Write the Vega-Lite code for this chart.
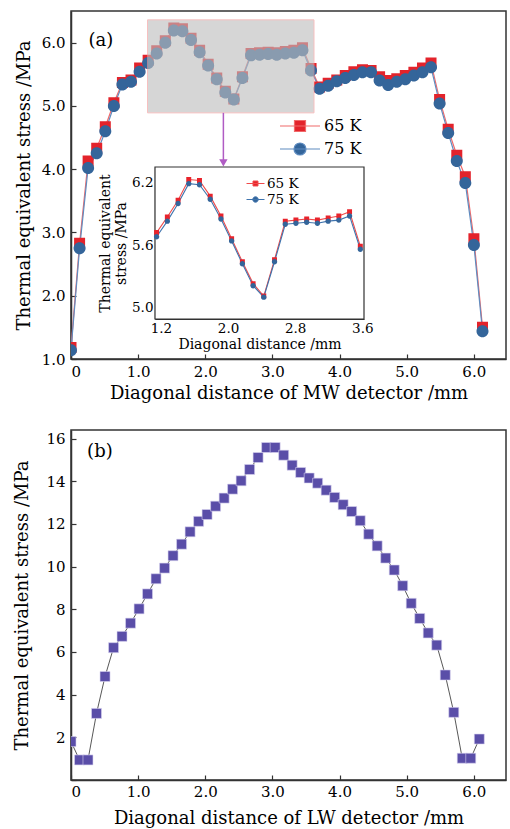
{
  "$schema": "https://vega.github.io/schema/vega-lite/v6.json",
  "padding": {"left": 13, "top": 10, "right": 1, "bottom": 0},
  "background": "white",
  "config": {
    "font": "DejaVu Serif",
    "view": {"stroke": "#333", "strokeWidth": 1.5},
    "axis": {"labelFont": "DejaVu Serif", "labelFontSize": 15, "labelColor": "#000", "titleFont": "DejaVu Serif", "titleFontSize": 18, "titleFontWeight": "normal", "titleColor": "#000", "domainColor": "#333", "domainWidth": 1.5, "tickColor": "#333", "tickWidth": 1.2, "grid": false, "tickSize": -5, "labelPadding": 9},
    "legend": {"labelFont": "DejaVu Serif", "labelColor": "#000"}
  },
  "datasets": {
    "mw": [
      {"x": 0, "series": "65 K", "y": 1.18}, {"x": 0.128, "series": "65 K", "y": 2.83}, {"x": 0.255, "series": "65 K", "y": 4.13}, {"x": 0.383, "series": "65 K", "y": 4.33}, {"x": 0.511, "series": "65 K", "y": 4.67}, {"x": 0.639, "series": "65 K", "y": 5.05}, {"x": 0.766, "series": "65 K", "y": 5.37}, {"x": 0.894, "series": "65 K", "y": 5.41}, {"x": 1.022, "series": "65 K", "y": 5.6}, {"x": 1.149, "series": "65 K", "y": 5.72},
      {"x": 1.277, "series": "65 K", "y": 5.87}, {"x": 1.405, "series": "65 K", "y": 6.03}, {"x": 1.532, "series": "65 K", "y": 6.23}, {"x": 1.66, "series": "65 K", "y": 6.22}, {"x": 1.788, "series": "65 K", "y": 6.07}, {"x": 1.916, "series": "65 K", "y": 5.88}, {"x": 2.043, "series": "65 K", "y": 5.66}, {"x": 2.171, "series": "65 K", "y": 5.44}, {"x": 2.299, "series": "65 K", "y": 5.23}, {"x": 2.426, "series": "65 K", "y": 5.11},
      {"x": 2.554, "series": "65 K", "y": 5.46}, {"x": 2.682, "series": "65 K", "y": 5.83}, {"x": 2.809, "series": "65 K", "y": 5.84}, {"x": 2.937, "series": "65 K", "y": 5.85}, {"x": 3.065, "series": "65 K", "y": 5.84}, {"x": 3.193, "series": "65 K", "y": 5.86}, {"x": 3.32, "series": "65 K", "y": 5.88}, {"x": 3.448, "series": "65 K", "y": 5.92}, {"x": 3.576, "series": "65 K", "y": 5.59}, {"x": 3.703, "series": "65 K", "y": 5.3},
      {"x": 3.831, "series": "65 K", "y": 5.36}, {"x": 3.959, "series": "65 K", "y": 5.41}, {"x": 4.086, "series": "65 K", "y": 5.48}, {"x": 4.214, "series": "65 K", "y": 5.54}, {"x": 4.342, "series": "65 K", "y": 5.57}, {"x": 4.47, "series": "65 K", "y": 5.56}, {"x": 4.597, "series": "65 K", "y": 5.46}, {"x": 4.725, "series": "65 K", "y": 5.4}, {"x": 4.853, "series": "65 K", "y": 5.43}, {"x": 4.98, "series": "65 K", "y": 5.48},
      {"x": 5.108, "series": "65 K", "y": 5.53}, {"x": 5.236, "series": "65 K", "y": 5.6}, {"x": 5.363, "series": "65 K", "y": 5.68}, {"x": 5.491, "series": "65 K", "y": 5.1}, {"x": 5.619, "series": "65 K", "y": 4.63}, {"x": 5.747, "series": "65 K", "y": 4.22}, {"x": 5.874, "series": "65 K", "y": 3.88}, {"x": 6.002, "series": "65 K", "y": 2.9}, {"x": 6.13, "series": "65 K", "y": 1.5},
      {"x": 0, "series": "75 K", "y": 1.14}, {"x": 0.128, "series": "75 K", "y": 2.75}, {"x": 0.255, "series": "75 K", "y": 4.02}, {"x": 0.383, "series": "75 K", "y": 4.25}, {"x": 0.511, "series": "75 K", "y": 4.6}, {"x": 0.639, "series": "75 K", "y": 5.0}, {"x": 0.766, "series": "75 K", "y": 5.34}, {"x": 0.894, "series": "75 K", "y": 5.38}, {"x": 1.022, "series": "75 K", "y": 5.54}, {"x": 1.149, "series": "75 K", "y": 5.68},
      {"x": 1.277, "series": "75 K", "y": 5.83}, {"x": 1.405, "series": "75 K", "y": 6.0}, {"x": 1.532, "series": "75 K", "y": 6.19}, {"x": 1.66, "series": "75 K", "y": 6.18}, {"x": 1.788, "series": "75 K", "y": 6.04}, {"x": 1.916, "series": "75 K", "y": 5.85}, {"x": 2.043, "series": "75 K", "y": 5.64}, {"x": 2.171, "series": "75 K", "y": 5.42}, {"x": 2.299, "series": "75 K", "y": 5.21}, {"x": 2.426, "series": "75 K", "y": 5.1},
      {"x": 2.554, "series": "75 K", "y": 5.44}, {"x": 2.682, "series": "75 K", "y": 5.8}, {"x": 2.809, "series": "75 K", "y": 5.81}, {"x": 2.937, "series": "75 K", "y": 5.82}, {"x": 3.065, "series": "75 K", "y": 5.81}, {"x": 3.193, "series": "75 K", "y": 5.83}, {"x": 3.32, "series": "75 K", "y": 5.84}, {"x": 3.448, "series": "75 K", "y": 5.88}, {"x": 3.576, "series": "75 K", "y": 5.56}, {"x": 3.703, "series": "75 K", "y": 5.27},
      {"x": 3.831, "series": "75 K", "y": 5.32}, {"x": 3.959, "series": "75 K", "y": 5.39}, {"x": 4.086, "series": "75 K", "y": 5.44}, {"x": 4.214, "series": "75 K", "y": 5.49}, {"x": 4.342, "series": "75 K", "y": 5.53}, {"x": 4.47, "series": "75 K", "y": 5.53}, {"x": 4.597, "series": "75 K", "y": 5.4}, {"x": 4.725, "series": "75 K", "y": 5.33}, {"x": 4.853, "series": "75 K", "y": 5.38}, {"x": 4.98, "series": "75 K", "y": 5.42},
      {"x": 5.108, "series": "75 K", "y": 5.48}, {"x": 5.236, "series": "75 K", "y": 5.53}, {"x": 5.363, "series": "75 K", "y": 5.61}, {"x": 5.491, "series": "75 K", "y": 5.04}, {"x": 5.619, "series": "75 K", "y": 4.57}, {"x": 5.747, "series": "75 K", "y": 4.13}, {"x": 5.874, "series": "75 K", "y": 3.78}, {"x": 6.002, "series": "75 K", "y": 2.8}, {"x": 6.13, "series": "75 K", "y": 1.44}
    ],
    "lw": [
      {"x": 0, "y": 1.8}, {"x": 0.127, "y": 0.94}, {"x": 0.253, "y": 0.94}, {"x": 0.38, "y": 3.12}, {"x": 0.507, "y": 4.85}, {"x": 0.634, "y": 6.2}, {"x": 0.76, "y": 6.73}, {"x": 0.887, "y": 7.35}, {"x": 1.014, "y": 8.02}, {"x": 1.14, "y": 8.72},
      {"x": 1.267, "y": 9.43}, {"x": 1.394, "y": 9.93}, {"x": 1.52, "y": 10.51}, {"x": 1.647, "y": 11.05}, {"x": 1.774, "y": 11.63}, {"x": 1.901, "y": 12.12}, {"x": 2.027, "y": 12.44}, {"x": 2.154, "y": 12.83}, {"x": 2.281, "y": 13.21}, {"x": 2.407, "y": 13.63},
      {"x": 2.534, "y": 14.02}, {"x": 2.661, "y": 14.55}, {"x": 2.787, "y": 15.11}, {"x": 2.914, "y": 15.58}, {"x": 3.041, "y": 15.58}, {"x": 3.168, "y": 15.22}, {"x": 3.294, "y": 14.75}, {"x": 3.421, "y": 14.41}, {"x": 3.548, "y": 14.15}, {"x": 3.674, "y": 13.91},
      {"x": 3.801, "y": 13.58}, {"x": 3.928, "y": 13.24}, {"x": 4.054, "y": 12.9}, {"x": 4.181, "y": 12.58}, {"x": 4.308, "y": 12.15}, {"x": 4.435, "y": 11.52}, {"x": 4.561, "y": 10.97}, {"x": 4.688, "y": 10.4}, {"x": 4.815, "y": 9.84}, {"x": 4.941, "y": 9.1},
      {"x": 5.068, "y": 8.28}, {"x": 5.195, "y": 7.57}, {"x": 5.321, "y": 6.89}, {"x": 5.448, "y": 6.32}, {"x": 5.575, "y": 4.92}, {"x": 5.702, "y": 3.17}, {"x": 5.828, "y": 1.02}, {"x": 5.955, "y": 1.02}, {"x": 6.082, "y": 1.92}
    ]
  },
  "spacing": 26,
  "vconcat": [
    {
      "width": 435,
      "height": 348,
      "layer": [
        {
          "layer": [
            {
              "data": {"name": "mw"},
              "mark": {"type": "line", "strokeWidth": 1.2, "clip": true},
              "encoding": {
                "x": {"field": "x", "type": "quantitative", "scale": {"domain": [0, 6.48], "nice": false, "zero": false},
                      "axis": {"orient": "bottom", "values": [0, 1, 2, 3, 4, 5, 6], "labelExpr": "datum.value === 0 ? '0' : format(datum.value, '.1f')", "title": "Diagonal distance of MW detector /mm", "labelPadding": 10, "titlePadding": 5}},
                "y": {"field": "y", "type": "quantitative", "scale": {"domain": [1, 6.5], "nice": false, "zero": false},
                      "axis": {"orient": "left", "values": [1, 1.5, 2, 2.5, 3, 3.5, 4, 4.5, 5, 5.5, 6], "labelExpr": "datum.value % 1 === 0 ? format(datum.value, '.1f') : ''", "title": "Thermal equivalent stress /MPa", "labelPadding": 11, "titlePadding": 8}},
                "stroke": {"field": "series", "type": "nominal", "scale": {"domain": ["65 K", "75 K"], "range": ["#f06a6a", "#5f8cc0"]},
                           "legend": {"orient": "none", "legendX": 208, "legendY": 103.5, "title": null, "labelFontSize": 16, "symbolSize": 1600, "symbolStrokeWidth": 1.2, "labelOffset": 3, "rowPadding": 0, "clipHeight": 23, "padding": 0}}
              }
            },
            {
              "data": {"name": "mw"},
              "mark": {"type": "point", "filled": true, "opacity": 1, "size": 1600, "clip": true},
              "encoding": {
                "x": {"field": "x", "type": "quantitative"},
                "y": {"field": "y", "type": "quantitative"},
                "fill": {"field": "series", "type": "nominal", "scale": {"domain": ["65 K", "75 K"], "range": ["#e3232b", "#34659a"]},
                         "legend": {"orient": "none", "legendX": 208, "legendY": 103.5, "title": null, "labelFontSize": 16, "symbolSize": 1600, "symbolStrokeWidth": 1.2, "labelOffset": 3, "rowPadding": 0, "clipHeight": 23, "padding": 0}},
                "shape": {"field": "series", "type": "nominal", "scale": {"domain": ["65 K", "75 K"], "range": ["M-1,0H1M-0.275,-0.275H0.275V0.275H-0.275Z", "M-1,0H1M0.3,0A0.3,0.3,0,1,1,-0.3,0A0.3,0.3,0,1,1,0.3,0Z"]},
                          "legend": {"orient": "none", "legendX": 208, "legendY": 103.5, "title": null, "labelFontSize": 16, "symbolSize": 1600, "symbolStrokeWidth": 1.2, "labelOffset": 3, "rowPadding": 0, "clipHeight": 23, "padding": 0}}
              }
            },
            {
              "data": {"values": [{}]},
              "mark": {"type": "rect", "fill": "#bdbdbd", "opacity": 0.62, "stroke": "#f39a9a", "strokeWidth": 1},
              "encoding": {"x": {"datum": 1.14}, "x2": {"datum": 3.62}, "y": {"datum": 4.89}, "y2": {"datum": 6.36}}
            },
            {
              "data": {"values": [{}]},
              "mark": {"type": "rule", "color": "#b05cc4", "strokeWidth": 1.5},
              "encoding": {"x": {"datum": 2.27}, "y": {"datum": 4.89}, "y2": {"datum": 4.12}}
            },
            {
              "data": {"values": [{}]},
              "mark": {"type": "point", "shape": "triangle-down", "filled": true, "color": "#b05cc4", "opacity": 1, "size": 70},
              "encoding": {"x": {"datum": 2.27}, "y": {"datum": 4.1}}
            },
            {
              "data": {"values": [{}]},
              "mark": {"type": "text", "text": "(a)", "align": "left", "baseline": "middle", "fontSize": 18, "font": "DejaVu Serif", "color": "#000"},
              "encoding": {"x": {"datum": 0.26}, "y": {"datum": 6.03}}
            }
          ]
        },
        {
          "layer": [
            {
              "data": {"values": [{}]},
              "mark": {"type": "rect", "fill": "white", "stroke": "#333", "strokeWidth": 1.2},
              "encoding": {
                "x": {"datum": 1.13, "scale": {"domain": [1.13, 3.62], "range": [84, 293], "nice": false, "zero": false},
                      "axis": {"orient": "bottom", "offset": -40, "values": [1.2, 2.0, 2.8, 3.6], "format": ".1f", "labelFontSize": 13.5, "titleFontSize": 14, "tickSize": -4, "labelPadding": 6, "title": "Diagonal distance /mm", "titlePadding": 3, "domainWidth": 1.2}},
                "x2": {"datum": 3.62},
                "y": {"datum": 4.89, "scale": {"domain": [4.89, 6.35], "range": [308, 156], "nice": false, "zero": false},
                      "axis": {"orient": "left", "offset": -84, "values": [5.0, 5.6, 6.2], "format": ".1f", "labelFontSize": 13.5, "titleFontSize": 14, "tickSize": -4, "labelPadding": 6, "title": ["Thermal equivalent", "stress /MPa"], "titlePadding": 3, "titleLineHeight": 16, "domainWidth": 1.2}},
                "y2": {"datum": 6.35}
              }
            },
            {
              "data": {"name": "mw"},
              "transform": [{"filter": "datum.x > 1.1 && datum.x < 3.6"}],
              "mark": {"type": "line", "strokeWidth": 1.1},
              "encoding": {
                "x": {"field": "x", "type": "quantitative"},
                "y": {"field": "y", "type": "quantitative"},
                "stroke": {"field": "series", "type": "nominal", "scale": {"domain": ["65 K", "75 K"], "range": ["#f04a4a", "#3f74ae"]},
                           "legend": {"orient": "none", "legendX": 175, "legendY": 163, "title": null, "labelFontSize": 13.5, "symbolSize": 324, "symbolStrokeWidth": 1, "labelOffset": 2, "rowPadding": 0, "padding": 0}}
              }
            },
            {
              "data": {"name": "mw"},
              "transform": [{"filter": "datum.x > 1.1 && datum.x < 3.6"}],
              "mark": {"type": "point", "filled": true, "opacity": 1, "size": 324},
              "encoding": {
                "x": {"field": "x", "type": "quantitative"},
                "y": {"field": "y", "type": "quantitative"},
                "fill": {"field": "series", "type": "nominal", "scale": {"domain": ["65 K", "75 K"], "range": ["#e8232b", "#34659a"]},
                         "legend": {"orient": "none", "legendX": 175, "legendY": 163, "title": null, "labelFontSize": 13.5, "symbolSize": 324, "symbolStrokeWidth": 1, "labelOffset": 2, "rowPadding": 0, "padding": 0}},
                "shape": {"field": "series", "type": "nominal", "scale": {"domain": ["65 K", "75 K"], "range": ["M-1,0H1M-0.275,-0.275H0.275V0.275H-0.275Z", "M-1,0H1M0.3,0A0.3,0.3,0,1,1,-0.3,0A0.3,0.3,0,1,1,0.3,0Z"]},
                          "legend": {"orient": "none", "legendX": 175, "legendY": 163, "title": null, "labelFontSize": 13.5, "symbolSize": 324, "symbolStrokeWidth": 1, "labelOffset": 2, "rowPadding": 0, "padding": 0}}
              }
            }
          ]
        }
      ],
      "resolve": {
        "scale": {"x": "independent", "y": "independent", "stroke": "independent", "fill": "independent", "shape": "independent"},
        "axis": {"x": "independent", "y": "independent"},
        "legend": {"stroke": "independent", "fill": "independent", "shape": "independent"}
      }
    },
    {
      "width": 435,
      "height": 350,
      "layer": [
        {
          "data": {"name": "lw"},
          "mark": {"type": "line", "color": "#444", "strokeWidth": 0.9, "clip": true},
          "encoding": {
            "x": {"field": "x", "type": "quantitative", "scale": {"domain": [0, 6.48], "nice": false, "zero": false},
                  "axis": {"orient": "bottom", "values": [0, 1, 2, 3, 4, 5, 6], "labelExpr": "datum.value === 0 ? '0' : format(datum.value, '.1f')", "title": "Diagonal distance of LW detector /mm", "titlePadding": 10, "labelPadding": 9}},
            "y": {"field": "y", "type": "quantitative", "scale": {"domain": [0, 16.4], "nice": false, "zero": false},
                  "axis": {"orient": "left", "values": [0, 2, 4, 6, 8, 10, 12, 14, 16], "labelExpr": "datum.value === 0 ? '' : format(datum.value, 'd')", "title": "Thermal equivalent stress /MPa", "labelPadding": 11, "titlePadding": 14}}
          }
        },
        {
          "data": {"name": "lw"},
          "mark": {"type": "point", "shape": "square", "filled": true, "color": "#5a4ea8", "stroke": "#d8d4f0", "strokeWidth": 0.6, "opacity": 1, "size": 100, "clip": true},
          "encoding": {
            "x": {"field": "x", "type": "quantitative"},
            "y": {"field": "y", "type": "quantitative"}
          }
        },
        {
          "data": {"values": [{}]},
          "mark": {"type": "text", "text": "(b)", "align": "left", "baseline": "middle", "fontSize": 18, "font": "DejaVu Serif", "color": "#000"},
          "encoding": {"x": {"datum": 0.24}, "y": {"datum": 15.36}}
        }
      ]
    }
  ]
}
